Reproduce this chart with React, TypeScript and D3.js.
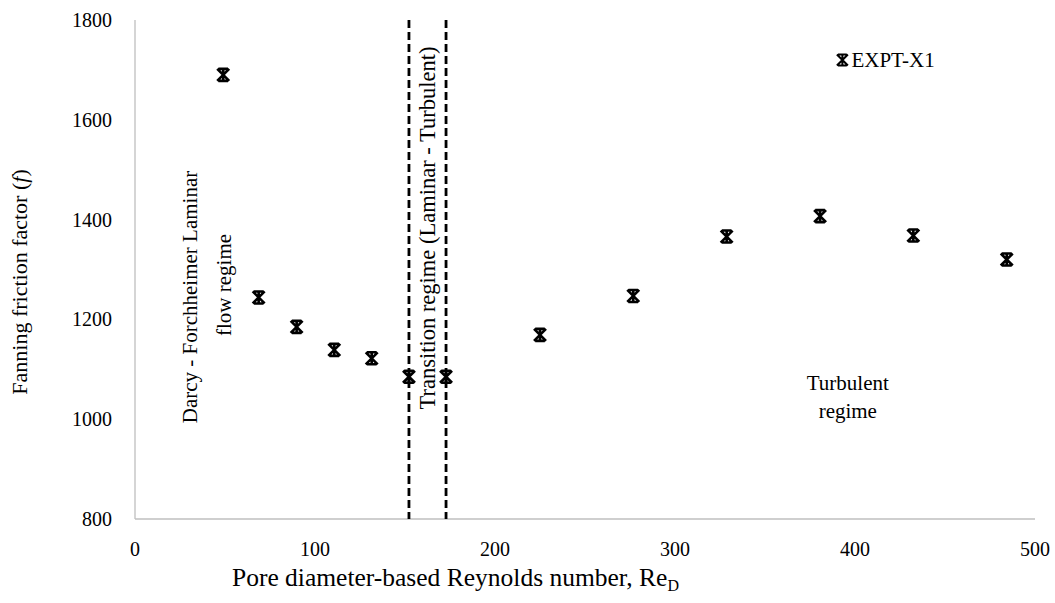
import React, { useEffect, useRef } from 'react';
import * as d3 from 'd3';

// Reynolds number (pore diameter based) and friction factor
const reynolds = [49, 68.7, 89.8, 110.7, 131.5, 152.2, 172.8, 225, 276.8, 328.7, 380.6, 432.4, 484.3];
const friction = [1690, 1244, 1185, 1139, 1122, 1085, 1085, 1169, 1247, 1366, 1407, 1368, 1320];
const xTicks = [0, 100, 200, 300, 400, 500];
const yTicks = [800, 1000, 1200, 1400, 1600, 1800];
const regimeBounds = [152.2, 172.8];
const seriesName = 'EXPT-X1';

const FONT = '"Liberation Serif", "Times New Roman", serif';

export default function App() {
  const ref = useRef<SVGSVGElement>(null);

  useEffect(() => {
    const svg = d3.select(ref.current);
    svg.selectAll('*').remove();

    var margin = { top: 20, right: 20, bottom: 84, left: 135 },
      width = 1035 - margin.left,
      height = 519 - margin.top;

    var x = d3.scaleLinear().domain([0, 500]).range([0, width]);
    var y = d3.scaleLinear().domain([800, 1800]).range([height, 0]);

    var g = svg.append('g').attr('transform', 'translate(' + margin.left + ',' + margin.top + ')');

    // axis lines (no tick marks)
    g.append('line').attr('x1', 0).attr('x2', 0).attr('y1', 0).attr('y2', height)
      .attr('stroke', '#bfbfbf').attr('stroke-width', 1.3);
    g.append('line').attr('x1', 0).attr('x2', width).attr('y1', height).attr('y2', height)
      .attr('stroke', '#bfbfbf').attr('stroke-width', 1.3);

    // tick labels
    g.selectAll('text.xt').data(xTicks).enter().append('text')
      .attr('class', 'xt')
      .attr('x', d => x(d)).attr('y', height + 37)
      .attr('text-anchor', 'middle')
      .attr('font-family', FONT).attr('font-size', 20)
      .text(d => d);
    g.selectAll('text.yt').data(yTicks).enter().append('text')
      .attr('class', 'yt')
      .attr('x', -23).attr('y', d => y(d) + 7)
      .attr('text-anchor', 'end')
      .attr('font-family', FONT).attr('font-size', 20)
      .text(d => d);

    // regime boundaries
    g.selectAll('line.bound').data(regimeBounds).enter().append('line')
      .attr('class', 'bound')
      .attr('x1', d => x(d)).attr('x2', d => x(d))
      .attr('y1', 0).attr('y2', height)
      .attr('stroke', '#000').attr('stroke-width', 2.8)
      .attr('stroke-dasharray', '8,4');

    // star markers (x + vertical stroke, capped)
    var star = (sel: any, s: number, w: number) => {
      sel.append('path')
        .attr('d', 'M' + -s + ',' + -s + 'L' + s + ',' + s + 'M' + s + ',' + -s + 'L' + -s + ',' + s +
          'M0,' + -s + 'L0,' + s + 'M' + -s * 0.8 + ',' + -s + 'L' + s * 0.8 + ',' + -s +
          'M' + -s * 0.8 + ',' + s + 'L' + s * 0.8 + ',' + s)
        .attr('stroke', '#000').attr('stroke-width', w).attr('fill', 'none');
    };
    reynolds.forEach((r, i) => {
      var m = g.append('g').attr('transform', 'translate(' + x(r) + ',' + y(friction[i]) + ')');
      star(m, 6, 2.6);
    });

    // annotations
    var ann = g.append('g').attr('font-family', FONT).attr('font-size', 21).attr('text-anchor', 'middle');
    ann.append('text').attr('transform', 'translate(' + (x(34.5)) + ',' + 277 + ') rotate(-90)')
      .text('Darcy - Forchheimer Laminar');
    ann.append('text').attr('transform', 'translate(' + (x(53.5)) + ',' + 265 + ') rotate(-90)')
      .text('flow regime');
    ann.append('text').attr('font-size', 22.5)
      .attr('transform', 'translate(' + (x(162.5) + 7) + ',' + 208 + ') rotate(-90)')
      .text('Transition regime (Laminar - Turbulent)');
    ann.append('text').attr('x', x(396)).attr('y', 370).text('Turbulent');
    ann.append('text').attr('x', x(396)).attr('y', 398).text('regime');

    // legend
    var leg = g.append('g').attr('transform', 'translate(' + (x(393)) + ',' + 40 + ')');
    star(leg, 5.5, 2);
    leg.append('text').attr('x', 9).attr('y', 7)
      .attr('font-family', FONT).attr('font-size', 21).text(seriesName);

    // axis titles
    var yt = svg.append('text')
      .attr('transform', 'translate(27,' + 282 + ') rotate(-90)')
      .attr('text-anchor', 'middle')
      .attr('font-family', FONT).attr('font-size', 22);
    yt.append('tspan').text('Fanning friction factor (');
    yt.append('tspan').attr('font-style', 'italic').text('f');
    yt.append('tspan').text(')');

    var xt = svg.append('text')
      .attr('x', 232).attr('y', 586)
      .attr('text-anchor', 'start')
      .attr('font-family', FONT).attr('font-size', 25.5);
    xt.append('tspan').text('Pore diameter-based Reynolds number, Re');
    xt.append('tspan').attr('font-size', 16).attr('dy', 5).text('D');
  }, []);

  return (
    <svg ref={ref} width={1055} height={603}
      style={{ position: 'absolute', left: 0, top: 0, background: '#fff' }} />
  );
}
